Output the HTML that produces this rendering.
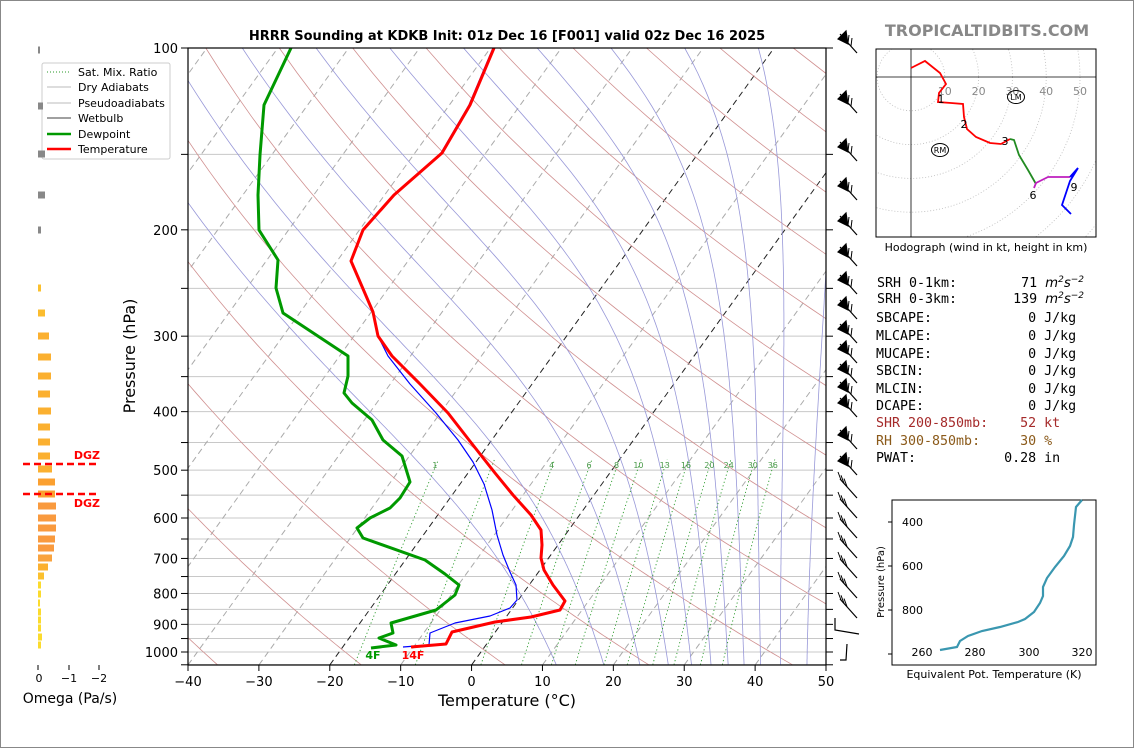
<!DOCTYPE html>
<html><head><meta charset="utf-8">
<style>
html,body{margin:0;padding:0;background:#fff;}
svg{display:block;font-family:"DejaVu Sans","Liberation Sans",sans-serif;}
.pre{white-space:pre;}
</style></head>
<body>
<svg id="s" width="1134" height="748" viewBox="0 0 1134 748" xmlns="http://www.w3.org/2000/svg">
<rect x="0.5" y="0.5" width="1133" height="747" fill="#fff" stroke="#888"/>
<defs><clipPath id="cp"><rect x="188" y="48" width="638" height="617"/></clipPath></defs>
<g id="bg" clip-path="url(#cp)"></g>
<g clip-path="url(#cp)" fill="none" stroke-linejoin="round">
<polyline stroke="#0000ff" stroke-width="1.2" points="493,48 469,105 441,153 394,195 363,230 351,261 373,312 378,336 388,356 410,384 436,413 458,440 473,462 484,484 492,510 497,535 503,555 510,572 516,585 517,600 510,608 490,616 455,623 430,633 429,645 403,647"/>
<polyline stroke="#ff0000" stroke-width="3" points="494,48 470,105 442,153 394,195 363,230 351,261 373,312 378,336 392,356 420,384 448,413 469,440 495,473 513,495 531,515 541,530 542,545 541,558 544,570 553,585 565,601 560,610 531,617 495,622 452,632 446,644 411,647"/>
<polyline stroke="#009900" stroke-width="3" points="291,48 264,105 260,155 258,195 259,230 278,260 276,288 283,313 348,356 348,376 344,393 352,403 372,420 383,440 402,456 410,482 400,498 390,508 370,518 357,528 363,538 425,560 445,574 459,585 455,595 436,610 391,623 393,633 379,638 396,645 371,648"/>
</g>
<text x="373" y="659" font-size="11" font-weight="bold" fill="#009900" text-anchor="middle">4F</text>
<text x="413" y="659" font-size="11" font-weight="bold" fill="#ff0000" text-anchor="middle">14F</text>
<rect x="188" y="48" width="638" height="617" fill="none" stroke="#000" stroke-width="1.2"/>
<g id="ax"></g>
<text x="507" y="40" font-size="13" font-weight="bold" text-anchor="middle">HRRR Sounding at KDKB Init: 01z Dec 16 [F001] valid 02z Dec 16 2025</text>
<text x="507" y="706" font-size="16" text-anchor="middle">Temperature (°C)</text>
<text transform="translate(135,356) rotate(-90)" font-size="16" text-anchor="middle">Pressure (hPa)</text>
<g font-size="11">
<rect x="42" y="63" width="128" height="96" fill="#fff" stroke="#ccc" rx="2"/>
<line x1="47" y1="72" x2="71" y2="72" stroke="#2a9a2a" stroke-dasharray="1,2"/><text x="78" y="76">Sat. Mix. Ratio</text>
<line x1="47" y1="87" x2="71" y2="87" stroke="#bbb"/><text x="78" y="91">Dry Adiabats</text>
<line x1="47" y1="103" x2="71" y2="103" stroke="#bbb"/><text x="78" y="107">Pseudoadiabats</text>
<line x1="47" y1="118" x2="71" y2="118" stroke="#000" stroke-width="0.8"/><text x="78" y="122">Wetbulb</text>
<line x1="47" y1="134" x2="71" y2="134" stroke="#009900" stroke-width="2.5"/><text x="78" y="138">Dewpoint</text>
<line x1="47" y1="149" x2="71" y2="149" stroke="#ff0000" stroke-width="2.5"/><text x="78" y="153">Temperature</text>
</g>
<g id="om"></g>
<line x1="23" y1="464" x2="98" y2="464" stroke="#ff0000" stroke-width="2.5" stroke-dasharray="7,4"/>
<line x1="23" y1="494" x2="98" y2="494" stroke="#ff0000" stroke-width="2.5" stroke-dasharray="7,4"/>
<text x="100" y="459" font-size="11" font-weight="bold" fill="#ff0000" text-anchor="end">DGZ</text>
<text x="100" y="507" font-size="11" font-weight="bold" fill="#ff0000" text-anchor="end">DGZ</text>
<g font-size="11" text-anchor="middle">
<line x1="38" y1="665" x2="38" y2="670" stroke="#000"/><line x1="69" y1="665" x2="69" y2="670" stroke="#000"/><line x1="99" y1="665" x2="99" y2="670" stroke="#000"/>
<text x="39" y="682">0</text><text x="69" y="682">−1</text><text x="99" y="682">−2</text>
</g>
<text x="70" y="703" font-size="14" text-anchor="middle">Omega (Pa/s)</text>
<g id="barbs" stroke="#000" fill="#000" stroke-width="1.2"></g>
<text x="987" y="36" font-size="16" font-weight="bold" fill="#888" text-anchor="middle">TROPICALTIDBITS.COM</text>
<g id="hod"></g>
<text x="986" y="251" font-size="11" text-anchor="middle">Hodograph (wind in kt, height in km)</text>
<g font-family="'DejaVu Sans Mono','Liberation Mono',monospace" font-size="13.3">
<text class="pre" x="877" y="287">SRH 0-1km:        71 <tspan font-style="italic" font-family="'DejaVu Sans',sans-serif">m<tspan dy="-5" font-size="9">2</tspan><tspan dy="5">s</tspan><tspan dy="-5" font-size="9">−2</tspan></tspan></text>
<text class="pre" x="877" y="303">SRH 0-3km:       139 <tspan font-style="italic" font-family="'DejaVu Sans',sans-serif">m<tspan dy="-5" font-size="9">2</tspan><tspan dy="5">s</tspan><tspan dy="-5" font-size="9">−2</tspan></tspan></text>
<text class="pre" x="876" y="322">SBCAPE:            0 J/kg</text>
<text class="pre" x="876" y="340">MLCAPE:            0 J/kg</text>
<text class="pre" x="876" y="358">MUCAPE:            0 J/kg</text>
<text class="pre" x="876" y="375">SBCIN:             0 J/kg</text>
<text class="pre" x="876" y="393">MLCIN:             0 J/kg</text>
<text class="pre" x="876" y="410">DCAPE:             0 J/kg</text>
<text class="pre" x="876" y="427" fill="#a52a2a">SHR 200-850mb:    52 kt</text>
<text class="pre" x="876" y="445" fill="#8b5a1a">RH 300-850mb:     30 %</text>
<text class="pre" x="876" y="462">PWAT:           0.28 in</text>
</g>
<rect x="892" y="500" width="204" height="165" fill="none" stroke="#000"/>
<polyline fill="none" stroke="#3a97b0" stroke-width="2.2" points="940,650 957,647 960,641 968,636 982,631 1000,627 1018,622 1025,619 1034,612 1040,603 1043,596 1043,587 1047,578 1055,567 1064,556 1070,546 1073,537 1074,525 1076,507 1082,500"/>
<g font-size="11">
<line x1="892" y1="522" x2="888" y2="522" stroke="#000"/><text x="923" y="526" text-anchor="end">400</text>
<line x1="892" y1="566" x2="888" y2="566" stroke="#000"/><text x="923" y="570" text-anchor="end">600</text>
<line x1="892" y1="610" x2="888" y2="610" stroke="#000"/><text x="923" y="614" text-anchor="end">800</text>
<line x1="892" y1="654" x2="888" y2="654" stroke="#000"/>
<text x="922" y="656" text-anchor="middle">260</text><text x="975" y="656" text-anchor="middle">280</text><text x="1029" y="656" text-anchor="middle">300</text><text x="1082" y="656" text-anchor="middle">320</text>
<text x="994" y="678" text-anchor="middle">Equivalent Pot. Temperature (K)</text>
<text transform="translate(884,582) rotate(-90)" font-size="10" text-anchor="middle">Pressure (hPa)</text>
</g>
</svg>
<script>
(function(){
var NS="http://www.w3.org/2000/svg";
function el(par,tag,at,txt){var e=document.createElementNS(NS,tag);for(var k in at)e.setAttribute(k,at[k]);if(txt!=null)e.textContent=txt;par.appendChild(e);return e;}
function Y(p){return 48+604*Math.log10(p/100);}
function X(T,p){return 188+(T+40)*7.089+0.72*(665-Y(p));}
var bg=document.getElementById('bg');
[100,150,200,250,300,350,400,450,500,550,600,650,700,750,800,850,900,950,1000,1050].forEach(function(p){
 el(bg,'line',{x1:188,x2:826,y1:Y(p),y2:Y(p),stroke:'#c8c8c8','stroke-width':1});});
for(var T=-120;T<=50;T+=10){var blk=(T==0||T==-20);el(bg,'line',{x1:X(T,1050),y1:Y(1050),x2:X(T,100),y2:Y(100),stroke:blk?'#222':'#aaa','stroke-width':1,'stroke-dasharray':'6,4'});}
function pts(f){var s=[];for(var p=1050;p>=100;p-=10){var t=f(p);s.push(X(t,p).toFixed(1)+','+Y(p).toFixed(1));}return s.join(' ');}
for(var th=154;th<=654;th+=20){(function(th){el(bg,'polyline',{points:pts(function(p){return th*Math.pow(p/1000,0.2857)-273.15;}),fill:'none',stroke:'#d09090','stroke-width':0.8});})(th);}
function es(t){return 6.112*Math.exp(17.67*t/(t+243.5));}
function lapse(t,p){var Tk=t+273.15,e=es(t),r=0.622*e/(p-e),L=2.5e6,Rd=287,cp=1005;
 return (Rd*Tk+L*r)/(cp+L*L*r*0.622/(Rd*Tk*Tk))/p;}
for(var k=-2;k<=8;k++){var t=-95+10.4*k,s=[];for(var p=100;p<=1050;p+=5){s.push(X(t,p).toFixed(1)+','+Y(p).toFixed(1));var h=5,k1=lapse(t,p),k2=lapse(t+k1*h/2,p+h/2);t+=k2*h;}
 el(bg,'polyline',{points:s.join(' '),fill:'none',stroke:'#9898d8','stroke-width':0.8});}
var mr=[1,2,4,6,8,10,13,16,20,24,30,36],lab={1:1,4:1,6:1,8:1,10:1,13:1,16:1,20:1,24:1,30:1,36:1};
mr.forEach(function(w){var s=[];for(var p=1050;p>=480;p-=10){var e=w/1000*p/(0.622+w/1000);var t=243.5*Math.log(e/6.112)/(17.67-Math.log(e/6.112));s.push(X(t,p).toFixed(1)+','+Y(p).toFixed(1));}
 el(bg,'polyline',{points:s.join(' '),fill:'none',stroke:'#2a9a2a','stroke-width':0.9,'stroke-dasharray':'1.2,2.5'});
 if(lab[w]){var e=w/1000*500/(0.622+w/1000);var t=243.5*Math.log(e/6.112)/(17.67-Math.log(e/6.112));el(bg,'text',{x:X(t,500)+1,y:Y(500)-2,'font-size':8,fill:'#4a9a4a','text-anchor':'middle'},w);}});
var ax=document.getElementById('ax');
[100,150,200,250,300,350,400,450,500,550,600,650,700,750,800,850,900,950,1000,1050].forEach(function(p){
 el(ax,'line',{x1:181,x2:188,y1:Y(p),y2:Y(p),stroke:'#000'});el(ax,'line',{x1:826,x2:833,y1:Y(p),y2:Y(p),stroke:'#000'});});
[100,200,300,400,500,600,700,800,900,1000].forEach(function(p){el(ax,'text',{x:178,y:Y(p)+5,'font-size':13,'text-anchor':'end'},p);});
for(var T=-40;T<=50;T+=10){var x=188+(T+40)*7.089;el(ax,'line',{x1:x,x2:x,y1:665,y2:671,stroke:'#000'});el(ax,'text',{x:x,y:686,'font-size':13,'text-anchor':'middle'},(T<0?'−'+(-T):T));}
var om=document.getElementById('om');
[[50,2,'#888'],[106,5,'#888'],[154,7,'#888'],[195,7,'#888'],[230,3,'#888'],
[288,3,'#fbc02d'],[313,7,'#fbbc2e'],[336,11,'#fbb030'],[357,13,'#fbb030'],[376,13,'#fbb030'],[394,12,'#fbb030'],[411,13,'#fbb030'],[427,12,'#fbb030'],[442,12,'#fbb030'],[456,12,'#fbb030'],[469,14,'#fbb030'],[482,17,'#fba030'],[494,17,'#fba030'],[506,18,'#f99a3e'],[518,18,'#f99a3e'],[528,18,'#f99a3e'],[539,17,'#f99a3e'],[548,16,'#f99a3e'],[558,14,'#f9a33e'],[567,10,'#fbb030'],[576,6,'#fbc02d'],[585,3,'#fbdb2d'],[594,3,'#fbdb2d'],[603,2,'#fbdb2d'],[612,3,'#fbdb2d'],[620,3,'#fbdb2d'],[628,3,'#fbdb2d'],[637,4,'#fbdb2d'],[645,3,'#fbdb2d']].forEach(function(b){
 el(om,'rect',{x:38,y:b[0]-3.5,width:b[1],height:7,fill:b[2]});});
var bb=document.getElementById('barbs');
[[40,1],[100,1],[148,1],[187,1],[222,1],[253,1],[281,1],[306,1],[330,1],[350,1],[370,1],[388,1],[404,1],[436,1],[462,1],[485,0],[505,0],[525,0],[545,0],[565,0],[585,0],[605,0]].forEach(function(b){
 var y=b[0];el(bb,'line',{x1:840,y1:y-6,x2:857,y2:y+13});
 if(b[1]){el(bb,'polygon',{points:(838)+','+(y-1)+' '+(846)+','+(y-9)+' '+(848)+','+(y+4)});
  el(bb,'line',{x1:848,y1:y+3,x2:849,y2:y-5,'stroke-width':1});el(bb,'line',{x1:851,y1:y+6,x2:852,y2:y-2,'stroke-width':1});}
 else{for(var i=0;i<3;i++){el(bb,'line',{x1:841+i*3,y1:y-5+i*3.3,x2:838+i*3,y2:y-13+i*3.3,'stroke-width':1});}}});
el(bb,'polyline',{points:'835,618 835,630 859,634',fill:'none'});
el(bb,'polyline',{points:'847,644 846,660 840,660',fill:'none'});
var hd=document.getElementById('hod');var ox=911,oy=77,sc=3.38;
var cl=el(hd,'clipPath',{id:'hc'});el(cl,'rect',{x:876,y:49,width:220,height:188});
var g=el(hd,'g',{'clip-path':'url(#hc)'});
for(var r=10;r<=80;r+=10)el(g,'circle',{cx:ox,cy:oy,r:r*sc,fill:'none',stroke:'#bbb','stroke-dasharray':'1,2','stroke-width':0.8});
el(g,'line',{x1:876,x2:1096,y1:oy,y2:oy,stroke:'#000','stroke-width':0.8});
el(g,'line',{x1:ox,x2:ox,y1:49,y2:237,stroke:'#000','stroke-width':0.8});
[10,20,30,40,50].forEach(function(v){el(g,'text',{x:ox+v*sc,y:oy+18,'font-size':11,fill:'#888','text-anchor':'middle'},v);});
el(g,'polyline',{points:'911,68 925,61 940,73 946,84 939,93 938,102 951,103 963,104 964,117 967,129 976,137 990,143 1001,144 1010,139',fill:'none',stroke:'#ff0000','stroke-width':1.8});
el(g,'polyline',{points:'1010,139 1014,140 1019,155 1028,170 1036,184',fill:'none',stroke:'#228b22','stroke-width':1.8});
el(g,'polyline',{points:'1034,188 1036,183 1048,177 1070,177',fill:'none',stroke:'#bf1fbf','stroke-width':1.8});
el(g,'polyline',{points:'1070,177 1078,168 1070,181 1062,205 1071,214',fill:'none',stroke:'#0000ff','stroke-width':1.8});
[['1',941,103],['2',964,128],['3',1005,145],['6',1033,199],['9',1074,191]].forEach(function(l){el(g,'text',{x:l[1],y:l[2],'font-size':11,'text-anchor':'middle'},l[0]);});
el(g,'ellipse',{cx:1016,cy:97,rx:8.5,ry:6.5,fill:'none',stroke:'#000'});el(g,'text',{x:1016,y:100,'font-size':8,'text-anchor':'middle'},'LM');
el(g,'ellipse',{cx:940,cy:150,rx:8.5,ry:6.5,fill:'none',stroke:'#000'});el(g,'text',{x:940,y:153,'font-size':8,'text-anchor':'middle'},'RM');
el(hd,'rect',{x:876,y:49,width:220,height:188,fill:'none',stroke:'#000'});
})();
</script>
</body></html>
